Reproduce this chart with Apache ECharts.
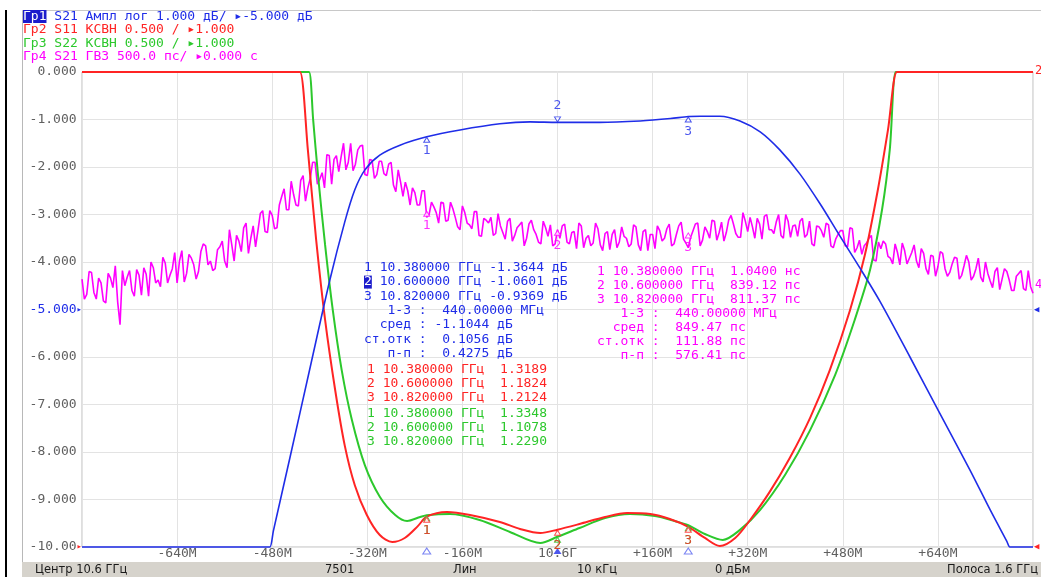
<!DOCTYPE html>
<html><head><meta charset="utf-8">
<script src="https://cdn.jsdelivr.net/npm/echarts@6/dist/echarts.min.js"></script>
<style>html,body{margin:0;padding:0;background:#fff;overflow:hidden}#c{width:1041px;height:577px}</style>
</head><body><div id="c"></div>
<script>
// ---------- data ----------
const centerGHz = 10.6;
const xTickValues = [-640, -480, -320, -160, 0, 160, 320, 480, 640];
const xTickLabels = ['-640М', '-480М', '-320М', '-160М', '10.6Г', '+160М', '+320М', '+480М', '+640М'];

// Tr1 S21 log mag, dB
const s21Freq = [9.800, 10.110, 10.116, 10.122, 10.150, 10.184, 10.217, 10.242, 10.259, 10.276, 10.301, 10.335, 10.380, 10.436, 10.503, 10.554, 10.600, 10.671, 10.739, 10.790, 10.820, 10.840, 10.873, 10.907, 10.941, 10.974, 11.008, 11.042, 11.075, 11.109, 11.143, 11.193, 11.243, 11.294, 11.328, 11.356, 11.361, 11.366, 11.400];
const s21Db = [-10, -10, -10, -9.66, -8.11, -6.21, -4.38, -3.16, -2.48, -2.06, -1.75, -1.54, -1.364, -1.22, -1.09, -1.05, -1.06, -1.06, -1.03, -0.98, -0.937, -0.93, -0.93, -1.03, -1.26, -1.64, -2.15, -2.78, -3.45, -4.13, -4.84, -6.00, -7.18, -8.38, -9.22, -9.88, -10, -10, -10];

// Tr2 S11 SWR
const s11Freq = [9.800, 10.160, 10.1668, 10.180, 10.194, 10.209, 10.226, 10.242, 10.259, 10.279, 10.301, 10.322, 10.343, 10.365, 10.380, 10.414, 10.453, 10.503, 10.537, 10.571, 10.600, 10.637, 10.680, 10.717, 10.756, 10.789, 10.820, 10.848, 10.873, 10.899, 10.924, 10.957, 10.991, 11.025, 11.058, 11.092, 11.117, 11.139, 11.156, 11.171, 11.178, 11.400];
const s11Swr = [6, 6, 6, 5.18, 4.23, 3.39, 2.65, 2.07, 1.65, 1.34, 1.126, 1.053, 1.095, 1.22, 1.3189, 1.368, 1.337, 1.263, 1.19, 1.147, 1.1824, 1.242, 1.316, 1.358, 1.347, 1.295, 1.2124, 1.095, 1.01, 1.095, 1.284, 1.58, 1.94, 2.36, 2.86, 3.49, 4.07, 4.76, 5.39, 6, 6, 6];

// Tr3 S22 SWR
const s22Freq = [9.800, 10.176, 10.182, 10.189, 10.197, 10.209, 10.222, 10.237, 10.254, 10.276, 10.301, 10.327, 10.347, 10.369, 10.380, 10.419, 10.469, 10.520, 10.571, 10.600, 10.637, 10.680, 10.722, 10.764, 10.797, 10.820, 10.848, 10.878, 10.907, 10.941, 10.983, 11.025, 11.067, 11.100, 11.126, 11.146, 11.159, 11.169, 11.176, 11.400];
const s22Swr = [6, 6, 6, 5.49, 4.92, 4.18, 3.49, 2.86, 2.34, 1.86, 1.53, 1.337, 1.274, 1.316, 1.3348, 1.347, 1.284, 1.158, 1.042, 1.1078, 1.2, 1.305, 1.347, 1.326, 1.274, 1.229, 1.137, 1.074, 1.18, 1.39, 1.76, 2.23, 2.81, 3.39, 3.92, 4.55, 5.18, 6, 6, 6];

// Tr4 S21 group delay, ns (sweep from 9.8 GHz, step 4 MHz)
const gdStartGHz = 9.8, gdStepGHz = 0.004;
const gdNs = [
 .32,.11,.16,.40,.39,.18,.11,.33,.28,.09,.07,.38,.33,.23,.46,.08,-.16,.41,.25,.34,
 .41,.20,.14,.42,.36,.15,.44,.37,.14,.50,.44,.28,.31,.24,.55,.49,.28,.36,.43,.60,
 .28,.51,.62,.29,.38,.58,.54,.47,.32,.40,.61,.69,.67,.47,.51,.41,.43,.63,.66,.72,
 .51,.44,.84,.68,.51,.78,.72,.61,.86,.91,.59,.75,.88,.66,.83,1.01,1.04,.82,.81,1.04,
 .99,.85,.86,1.10,1.19,1.27,1.05,1.05,1.35,1.21,1.10,1.09,1.36,1.41,1.14,1.28,1.38,1.55,1.55,1.32,
 1.37,1.44,1.28,1.63,1.62,1.32,1.58,1.62,1.45,1.61,1.75,1.47,1.55,1.75,1.46,1.53,1.68,1.72,1.73,1.42,
 1.41,1.58,1.57,1.38,1.42,1.56,1.56,1.43,1.41,1.53,1.55,1.31,1.24,1.47,1.34,1.19,1.34,1.25,1.10,1.28,
 1.23,1.10,1.10,1.25,1.25,.97,1.00,1.13,1.08,1.02,.91,1.13,1.12,.93,.94,1.13,1.06,.97,.87,.84,
 1.09,1.02,.91,.89,.85,1.03,1.03,.78,.77,.96,.94,.91,.97,.78,.80,1.01,.88,.81,.74,.93,
 .96,.72,.78,.86,.89,.92,.67,.75,.90,.94,.84,.79,.71,.69,.93,.86,.77,.89,.67,.69,
 .84,.75,.88,.90,.71,.69,.81,.82,.64,.91,.88,.65,.75,.78,.67,.70,.91,.85,.68,.62,
 .80,.82,.63,.79,.84,.65,.71,.87,.77,.75,.66,.69,.89,.87,.68,.62,.82,.84,.62,.79,
 .79,.64,.88,.83,.72,.75,.85,.90,.67,.69,.79,.88,.92,.74,.70,.65,.76,.83,.90,.91,
 .67,.73,.87,.82,.75,.94,.93,.73,.81,.92,.72,.81,.94,.99,.90,.80,.76,.76,1.02,.93,
 .82,.97,.87,.75,.96,.90,.74,.98,1.00,.84,.84,.80,.92,1.00,.78,.75,1.00,.93,.76,.88,
 .89,.77,.93,.96,.76,.79,.93,.69,.67,.88,.87,.83,.76,.91,.89,.67,.65,.74,.79,.83,
 .83,.67,.66,.86,.85,.60,.65,.73,.58,.67,.70,.75,.78,.52,.51,.71,.64,.72,.69,.56,
 .54,.48,.69,.60,.47,.70,.62,.48,.54,.60,.68,.51,.44,.64,.59,.43,.37,.57,.56,.35,
 .45,.61,.59,.43,.35,.39,.48,.55,.54,.32,.36,.46,.57,.50,.31,.35,.43,.54,.34,.29,
 .50,.38,.30,.23,.40,.44,.21,.32,.43,.40,.31,.20,.20,.35,.38,.41,.22,.20,.41,.24,
 .17
];

// markers
const markerFreq = [10.38, 10.60, 10.82];
const markerS21 = [-1.3644, -1.0601, -0.9369];
const markerS11 = [1.3189, 1.1824, 1.2124];
const markerS22 = [1.3348, 1.1078, 1.2290];
const markerGD = [1.0400, 0.83912, 0.81137];

// texts
const headerLines = [
  '{hl|Гр1} S21 Ампл лог 1.000 дБ/ ▸-5.000 дБ',
  'Гр2 S11 КСВН 0.500 / ▸1.000',
  'Гр3 S22 КСВН 0.500 / ▸1.000',
  'Гр4 S21 ГВЗ 500.0 пс/ ▸0.000 с'
];
const readS21 = ['1 10.380000 ГГц -1.3644 дБ', '{hl|2} 10.600000 ГГц -1.0601 дБ', '3 10.820000 ГГц -0.9369 дБ'];
const statS21 = ['   1-3 :  440.00000 МГц', '  сред : -1.1044 дБ', 'ст.отк :  0.1056 дБ', '   п-п :  0.4275 дБ'];
const readS11 = ['1 10.380000 ГГц  1.3189', '2 10.600000 ГГц  1.1824', '3 10.820000 ГГц  1.2124'];
const readS22 = ['1 10.380000 ГГц  1.3348', '2 10.600000 ГГц  1.1078', '3 10.820000 ГГц  1.2290'];
const readGD = ['1 10.380000 ГГц  1.0400 нс', '2 10.600000 ГГц  839.12 пс', '3 10.820000 ГГц  811.37 пс'];
const statGD = ['   1-3 :  440.00000 МГц', '  сред :  849.47 пс', 'ст.отк :  111.88 пс', '   п-п :  576.41 пс'];
const statusTexts = ['Центр 10.6 ГГц', '7501', 'Лин', '10 кГц', '0 дБм', 'Полоса 1.6 ГГц'];

// ---------- styles ----------
const BLUE = '#1f2de8', RED = '#ff2424', GREEN = '#2cc82c', MAG = '#ff00ff';
const MONO = '"DejaVu Sans Mono", monospace';
const FONT13 = '13px "DejaVu Sans Mono"';
const toX = f => (f - centerGHz) * 1000;
const pairs = (fs, vs) => fs.map((f, i) => [toX(f), vs[i]]);

const chart = echarts.init(document.getElementById('c'), null, {renderer: 'canvas'});

function markerSeries(vals, yIdx, color, dy, symOff, rot, hollow) {
  return {
    type: 'scatter', yAxisIndex: yIdx, z: 20, clip: false, silent: true,
    symbol: 'triangle', symbolSize: [6, 5],
    itemStyle: hollow ? {color: '#fff', borderColor: color, borderWidth: 1} : {color: color},
    label: {show: true, position: 'inside', color: color, fontFamily: MONO, fontSize: 13,
      formatter: p => String(p.dataIndex + 1)},
    data: markerFreq.map((f, i) => ({
      value: [toX(f), vals[i]],
      symbolOffset: [0, symOff[i]], symbolRotate: rot[i],
      label: {offset: [0, dy[i]]}
    }))
  };
}

const hlRich = {hl: {backgroundColor: '#1c1ccc', fill: '#ffffff', font: FONT13}};
function textLines(lines, x, y0, step, color) {
  return lines.map((t, k) => ({
    type: 'text', x: x, y: y0 + step * k, silent: true, z: 50,
    style: {text: t, fill: color, font: FONT13, verticalAlign: 'middle', rich: hlRich}
  }));
}

const headerColors = [BLUE, RED, GREEN, MAG];
let graphics = [];
// frame
graphics.push({type: 'rect', shape: {x: 5, y: 10, width: 2, height: 567}, style: {fill: '#000'}, silent: true});
graphics.push({type: 'line', shape: {x1: 22.5, y1: 10, x2: 22.5, y2: 562}, style: {stroke: '#b8b8b8', lineWidth: 1}, silent: true});
graphics.push({type: 'line', shape: {x1: 22, y1: 10.5, x2: 1041, y2: 10.5}, style: {stroke: '#c8c8c8', lineWidth: 1}, silent: true});
// status bar
graphics.push({type: 'rect', shape: {x: 22, y: 562, width: 1019, height: 15}, style: {fill: '#d6d3cc'}, silent: true});
const statusX = [35, 325, 453, 577, 715, 1038];
statusTexts.forEach((t, i) => graphics.push({
  type: 'text', x: statusX[i], y: 570.5, silent: true,
  style: {text: t, fill: '#1a1a1a', font: '11.5px "DejaVu Sans"', verticalAlign: 'middle', align: i === 5 ? 'right' : 'left'}
}));
// header
headerLines.forEach((t, i) => graphics.push({
  type: 'text', x: 23, y: 16.5 + 13.5 * i, silent: true,
  style: {text: t, fill: headerColors[i], font: FONT13, verticalAlign: 'middle', rich: hlRich}
}));
// readouts
graphics = graphics.concat(
  textLines(readS21, 364, 268, 14.1, BLUE),
  textLines(statS21, 364, 311, 14.1, BLUE),
  textLines(readS11, 367, 369.5, 14, RED),
  textLines(readS22, 367, 414, 14, GREEN),
  textLines(readGD, 597, 271.5, 14, MAG),
  textLines(statGD, 597, 314, 14, MAG)
);
// right-side reference indicators
graphics.push({type: 'text', x: 1035, y: 71, silent: true, style: {text: '2', fill: RED, font: '12px "DejaVu Sans Mono"', verticalAlign: 'middle'}});
graphics.push({type: 'text', x: 1035, y: 285, silent: true, style: {text: '4', fill: MAG, font: '12px "DejaVu Sans Mono"', verticalAlign: 'middle'}});
graphics.push({type: 'text', x: 1034, y: 310, silent: true, style: {text: '◀', fill: BLUE, font: '9px "DejaVu Sans Mono"', verticalAlign: 'middle'}});
graphics.push({type: 'text', x: 1034, y: 547, silent: true, style: {text: '◀', fill: RED, font: '9px "DejaVu Sans Mono"', verticalAlign: 'middle'}});

const option = {
  animation: false,
  backgroundColor: '#ffffff',
  grid: {left: 82, right: 8, top: 72, bottom: 30, show: true, borderColor: '#bdbdbd', borderWidth: 1,
    containLabel: false, outerBoundsMode: 'none'},
  xAxis: {
    type: 'value', min: -800, max: 800, interval: 160,
    axisLine: {show: false}, axisTick: {show: false},
    splitLine: {show: true, lineStyle: {color: '#e3e3e3', width: 1}},
    axisLabel: {
      show: true, margin: 0, color: '#606060', fontFamily: MONO, fontSize: 13,
      showMinLabel: false, showMaxLabel: false,
      formatter: v => { const k = xTickValues.indexOf(Math.round(v)); return k >= 0 ? xTickLabels[k] : ''; }
    }
  },
  yAxis: [
    {
      type: 'value', min: -10, max: 0, interval: 1, position: 'left',
      axisLine: {show: false}, axisTick: {show: false},
      splitLine: {show: true, lineStyle: {color: '#e3e3e3', width: 1}},
      axisLabel: {
        show: true, margin: 0,
        formatter: v => {
          const s = v === -10 ? '-10.00' : v.toFixed(3);
          const m = v === -5 ? 'b' : 'g';
          const t = v === -5 ? 'tb' : (v === -10 ? 'tr' : 'tn');
          return '{' + m + '|' + s + '}{' + t + '|▸}';
        },
        rich: {
          g: {color: '#606060', fontFamily: MONO, fontSize: 13},
          b: {color: BLUE, fontFamily: MONO, fontSize: 13},
          tb: {color: BLUE, fontFamily: MONO, fontSize: 9},
          tr: {color: RED, fontFamily: MONO, fontSize: 9},
          tn: {color: 'rgba(0,0,0,0)', fontFamily: MONO, fontSize: 9}
        }
      }
    },
    {type: 'value', min: 1, max: 6, show: false, splitLine: {show: false}},
    {type: 'value', min: -2.5, max: 2.5, show: false, splitLine: {show: false}}
  ],
  series: [
    {type: 'line', name: 'ГВЗ', yAxisIndex: 2, showSymbol: false, symbol: 'none', z: 2,
      lineStyle: {color: MAG, width: 1.6}, itemStyle: {color: MAG},
      data: gdNs.map((v, i) => [toX(gdStartGHz + i * gdStepGHz), v])},
    {type: 'line', name: 'S22', yAxisIndex: 1, showSymbol: false, symbol: 'none', smooth: 0.3, clip: false, z: 3,
      lineStyle: {color: GREEN, width: 2}, itemStyle: {color: GREEN}, data: pairs(s22Freq, s22Swr)},
    {type: 'line', name: 'S11', yAxisIndex: 1, showSymbol: false, symbol: 'none', smooth: 0.3, clip: false, z: 4,
      lineStyle: {color: RED, width: 2}, itemStyle: {color: RED}, data: pairs(s11Freq, s11Swr)},
    {type: 'line', name: 'S21', yAxisIndex: 0, showSymbol: false, symbol: 'none', smooth: 0.3, clip: false, z: 5,
      lineStyle: {color: BLUE, width: 1.6}, itemStyle: {color: BLUE}, data: pairs(s21Freq, s21Db)},
    markerSeries(markerGD, 2, MAG, [11.5, 13, 12.5], [3, 3, 3], [0, 0, 0], true),
    markerSeries(markerS22, 1, GREEN, [12.8, 6.2, 12.8], [3, 3, 3], [0, 0, 0], true),
    markerSeries(markerS11, 1, RED, [11.3, 13.3, 11.2], [3, 3, 3], [0, 0, 0], true),
    markerSeries(markerS21, 0, BLUE, [11, -14, 12.5], [3, -3, 3], [0, 180, 0], true),
    {type: 'scatter', yAxisIndex: 0, z: 20, clip: false, silent: true, symbol: 'triangle', symbolSize: [8, 6],
      data: markerFreq.map((f, i) => ({
        value: [toX(f), -10], symbolOffset: [0, 4],
        itemStyle: i === 1 ? {color: BLUE} : {color: '#fff', borderColor: '#5a66f0', borderWidth: 1}
      }))}
  ],
  graphic: {elements: graphics}
};
chart.setOption(option);
</script>
</body></html>
